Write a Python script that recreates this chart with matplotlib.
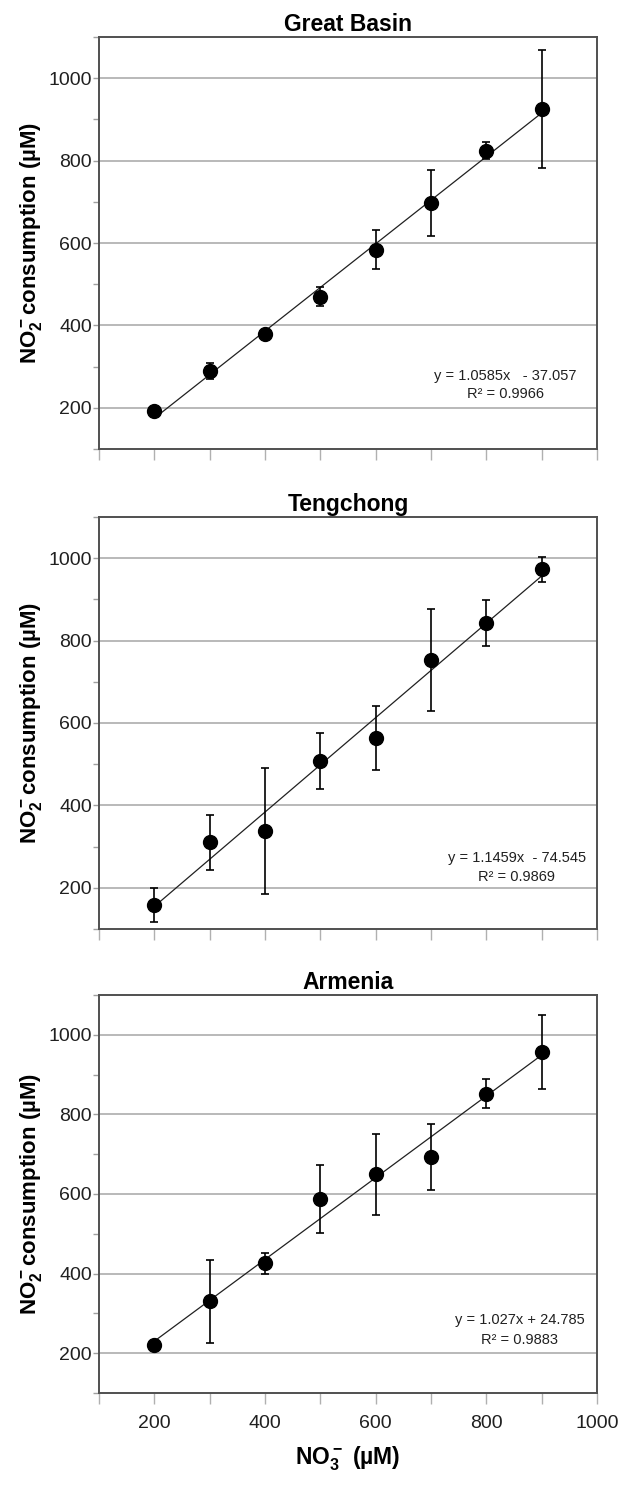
import matplotlib.pyplot as plt
import numpy as np

plt.rcParams['font.family'] = ['Liberation Sans', 'DejaVu Sans']
plt.rcParams['mathtext.fontset'] = 'custom'
plt.rcParams['mathtext.bf'] = 'Liberation Sans:bold'
plt.rcParams['mathtext.rm'] = 'Liberation Sans:bold'
plt.rcParams['mathtext.default'] = 'bf'

# NO3- added (uM)
nitrate = [200, 300, 400, 500, 600, 700, 800, 900]

sites = ['Great Basin', 'Tengchong', 'Armenia']

gb_mean = [193, 289, 378, 470, 584, 697, 824, 925]
gb_err = [8, 20, 6, 24, 47, 80, 21, 143]

tc_mean = [158, 310, 337, 507, 563, 753, 842, 973]
tc_err = [42, 67, 153, 68, 78, 123, 56, 31]

am_mean = [221, 330, 426, 587, 650, 693, 852, 956]
am_err = [8, 104, 27, 86, 102, 82, 37, 93]

slopes = [1.0585, 1.1459, 1.027]
intercepts = [-37.057, -74.545, 24.785]
eq_text = ['y = 1.0585x   - 37.057', 'y = 1.1459x  - 74.545', 'y = 1.027x + 24.785']
r2_text = ['R\u00b2 = 0.9966', 'R\u00b2 = 0.9869', 'R\u00b2 = 0.9883']
eq_pos = [(835, 277, 233), (855, 272, 227), (860, 283, 233)]

means = [gb_mean, tc_mean, am_mean]
errs = [gb_err, tc_err, am_err]

# axes boxes in pixels (left, top, right, bottom) on a 626x1488 canvas
W, H = 626, 1488
boxes = [(99, 37, 597, 449), (99, 517, 597, 929), (99, 995, 597, 1393)]

fig = plt.figure(figsize=(W / 100, H / 100), dpi=100)

spine_col = '#505050'
for i, site in enumerate(sites):
    l, t, r, b = boxes[i]
    ax = fig.add_axes([l / W, 1 - b / H, (r - l) / W, (b - t) / H])
    ax.set_xlim(100, 1000)
    ax.set_ylim(100, 1100)

    for y in [200, 400, 600, 800, 1000]:
        ax.axhline(y, color='#a6a6a6', lw=1.1, zorder=0)

    xs = np.array([nitrate[0], nitrate[-1]])
    ax.plot(xs, slopes[i] * xs + intercepts[i], color='#202020', lw=0.9, zorder=2)

    ax.errorbar(nitrate, means[i], yerr=errs[i], fmt='o', color='black',
                ms=10, ecolor='black', elinewidth=1.2, capsize=3, capthick=1.2, zorder=3)

    ex, ey1, ey2 = eq_pos[i]
    ax.text(ex, ey1, eq_text[i], ha='center', va='center', fontsize=10.5, color='#202020')
    ax.text(ex, ey2, r2_text[i], ha='center', va='center', fontsize=10.5, color='#202020')

    ax.set_title(site, fontsize=16.5, fontweight='bold', pad=4)
    ax.set_ylabel(r'NO$_2^-$consumption (µM)', fontsize=16, fontweight='bold', labelpad=3)

    ax.set_yticks(np.arange(100, 1101, 100))
    ax.set_yticklabels(['' if v % 200 or v == 1100 else str(v) for v in range(100, 1101, 100)],
                       fontsize=14, color='#202020')
    ax.set_xticks(np.arange(100, 1001, 100))
    ax.tick_params(axis='y', direction='out', length=4, width=1, color='#a0a0a0', pad=1)
    ax.tick_params(axis='x', direction='out', length=8, width=1, color='#b0b0b0', pad=8)
    if i < 2:
        ax.set_xticklabels([])
    else:
        ax.set_xticklabels(['' if v % 200 else str(v) for v in range(100, 1001, 100)],
                           fontsize=14, color='#202020')
        ax.set_xlabel(r'NO$_3^-$ (µM)', fontsize=16.5, fontweight='bold', labelpad=9)

    for s in ax.spines.values():
        s.set_color(spine_col)
        s.set_linewidth(1.4)

fig.savefig('out.png', dpi=100, facecolor='white')
